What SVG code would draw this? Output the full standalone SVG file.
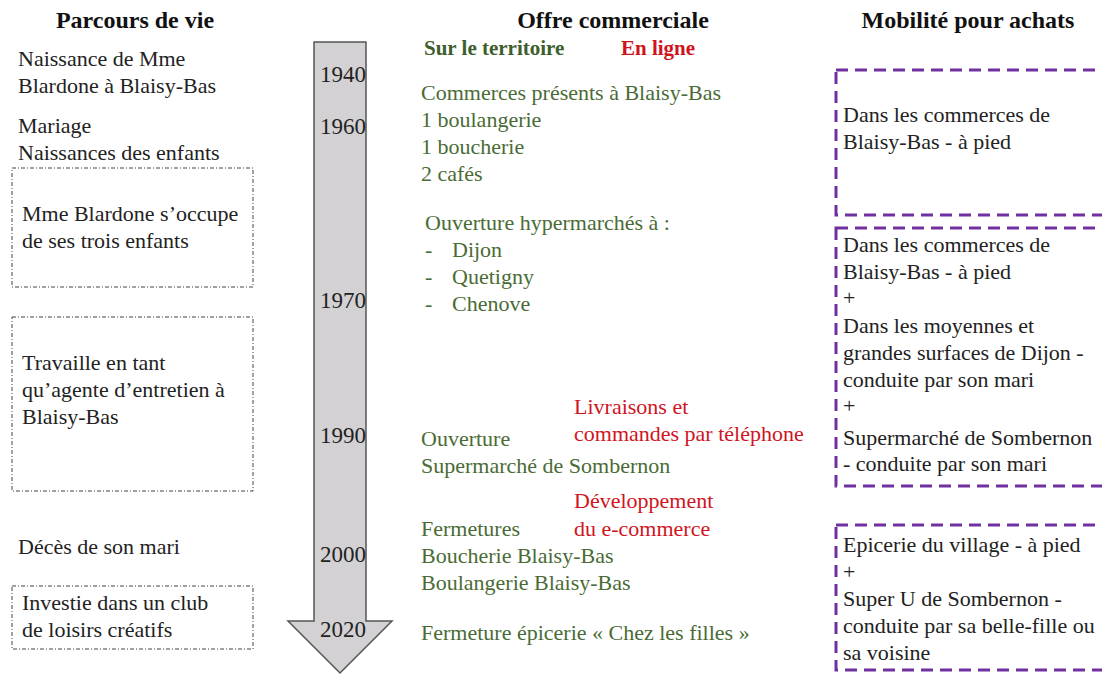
<svg xmlns="http://www.w3.org/2000/svg" width="1102" height="675" viewBox="0 0 1102 675" font-family="'Liberation Serif', 'DejaVu Serif', serif">
<style>
text{font-family:'Liberation Serif','DejaVu Serif',serif;font-size:22px;fill:#222}
.h{font-weight:bold;font-size:24px;text-anchor:middle;fill:#111}
.g{fill:#4a6b35}
.r{fill:#d0141e}
.gb{font-weight:bold;fill:#3e5e2c;font-size:21px}
.rb{font-weight:bold;fill:#d0141e;font-size:21px}
.yr{text-anchor:end;fill:#222;font-size:23px}
.life{fill:none;stroke:#444;stroke-width:1;stroke-dasharray:4 2 1 2}
.mob{fill:none;stroke:#7030a0;stroke-width:3;stroke-dasharray:12 7}
</style>
<rect width="1102" height="675" fill="#fff"/>
<g id="headers">
<text class="h" x="135" y="28">Parcours de vie</text>
<text class="h" x="613" y="28">Offre commerciale</text>
<text class="h" x="968" y="28">Mobilité pour achats</text>
</g>
<g id="timeline">
<path d="M314 42 H366 V621 H392 L340 673 L288 621 H314 Z" fill="#d3d1d3" stroke="#555" stroke-width="1.5"/>
<text class="yr" x="366" y="82">1940</text>
<text class="yr" x="366" y="134">1960</text>
<text class="yr" x="366" y="308">1970</text>
<text class="yr" x="366" y="443">1990</text>
<text class="yr" x="366" y="562">2000</text>
<text class="yr" x="366" y="637">2020</text>
</g>
<g id="life-birth">
<text x="18" y="66">Naissance de Mme</text>
<text x="18" y="93">Blardone à Blaisy-Bas</text>
</g>
<g id="life-marriage">
<text x="18" y="133">Mariage</text>
<text x="18" y="160">Naissances des enfants</text>
</g>
<g id="life-children">
<rect class="life" x="12" y="168" width="241" height="119"/>
<text x="22" y="221">Mme Blardone s’occupe</text>
<text x="22" y="248">de ses trois enfants</text>
</g>
<g id="life-work">
<rect class="life" x="12" y="317" width="241" height="174"/>
<text x="22" y="370">Travaille en tant</text>
<text x="22" y="397">qu’agente d’entretien à</text>
<text x="22" y="424">Blaisy-Bas</text>
</g>
<g id="life-death">
<text x="18" y="554">Décès de son mari</text>
</g>
<g id="life-club">
<rect class="life" x="12" y="586" width="241" height="63"/>
<text x="22" y="610">Investie dans un club</text>
<text x="22" y="637">de loisirs créatifs</text>
</g>
<g id="offer-subheaders">
<text class="gb" x="424" y="55">Sur le territoire</text>
<text class="rb" x="621" y="55">En ligne</text>
</g>
<g id="offer-1940">
<text class="g" x="421" y="100">Commerces présents à Blaisy-Bas</text>
<text class="g" x="421" y="127">1 boulangerie</text>
<text class="g" x="421" y="154">1 boucherie</text>
<text class="g" x="421" y="181">2 cafés</text>
</g>
<g id="offer-hyper">
<text class="g" x="425" y="230">Ouverture hypermarchés à :</text>
<text class="g" x="425" y="257">-</text><text class="g" x="452" y="257">Dijon</text>
<text class="g" x="425" y="284">-</text><text class="g" x="452" y="284">Quetigny</text>
<text class="g" x="425" y="311">-</text><text class="g" x="452" y="311">Chenove</text>
</g>
<g id="offer-phone">
<text class="r" x="574" y="414">Livraisons et</text>
<text class="r" x="574" y="441">commandes par téléphone</text>
</g>
<g id="offer-super">
<text class="g" x="421" y="446">Ouverture</text>
<text class="g" x="421" y="473">Supermarché de Sombernon</text>
</g>
<g id="offer-ecommerce">
<text class="r" x="574" y="508">Développement</text>
<text class="r" x="574" y="536">du e-commerce</text>
</g>
<g id="offer-closures">
<text class="g" x="421" y="536">Fermetures</text>
<text class="g" x="421" y="563">Boucherie Blaisy-Bas</text>
<text class="g" x="421" y="590">Boulangerie Blaisy-Bas</text>
</g>
<g id="offer-epicerie">
<text class="g" x="421" y="640">Fermeture épicerie « Chez les filles »</text>
</g>
<g id="mob-1">
<rect class="mob" x="836" y="70" width="280" height="145"/>
<text x="843" y="122">Dans les commerces de</text>
<text x="843" y="149">Blaisy-Bas - à pied</text>
</g>
<g id="mob-2">
<rect class="mob" x="836" y="228" width="280" height="258"/>
<text x="843" y="252">Dans les commerces de</text>
<text x="843" y="279">Blaisy-Bas - à pied</text>
<text x="843" y="305">+</text>
<text x="843" y="333">Dans les moyennes et</text>
<text x="843" y="360">grandes surfaces de Dijon -</text>
<text x="843" y="387">conduite par son mari</text>
<text x="843" y="413">+</text>
<text x="843" y="445">Supermarché de Sombernon</text>
<text x="843" y="471">- conduite par son mari</text>
</g>
<g id="mob-3">
<rect class="mob" x="836" y="525" width="280" height="145"/>
<text x="843" y="552">Epicerie du village - à pied</text>
<text x="843" y="579">+</text>
<text x="843" y="606">Super U de Sombernon  -</text>
<text x="843" y="633">conduite par sa belle-fille ou</text>
<text x="843" y="660">sa voisine</text>
</g>
<g id="connectors"></g>
</svg>
